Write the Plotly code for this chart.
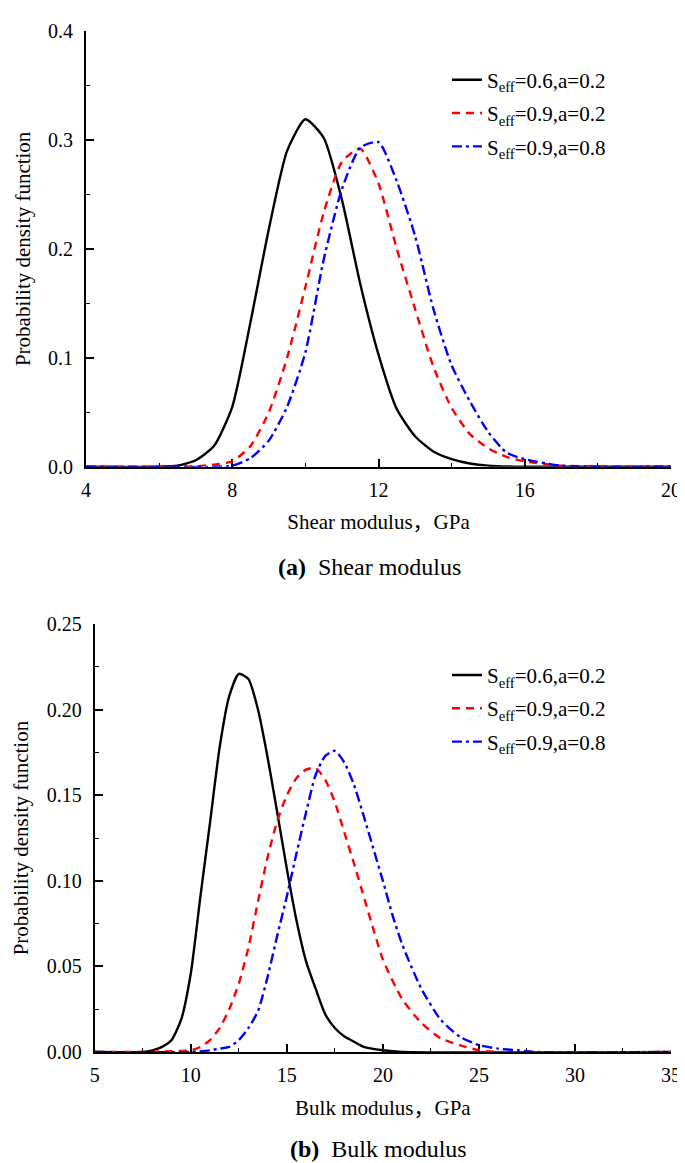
import plotly.graph_objects as go

# ---------------- data: (a) Shear modulus ----------------
shear_black_x = [4, 6, 6.5, 7, 7.5, 8, 8.5, 9, 9.5, 10, 10.5, 11, 11.5, 12, 12.5, 13, 13.5, 14, 14.5, 15, 16, 20]
shear_black_y = [0, 0, 0.001, 0.006, 0.019, 0.055, 0.133, 0.218, 0.290, 0.319, 0.302, 0.245, 0.168, 0.103, 0.053, 0.028, 0.014, 0.007, 0.003, 0.001, 0, 0]

shear_red_x = [4, 6, 7, 7.5, 8, 8.5, 9, 9.5, 10, 10.5, 11, 11.5, 12, 12.5, 13, 13.5, 14, 14.5, 15, 15.5, 16, 17, 20]
shear_red_y = [0, 0, 0.0005, 0.002, 0.005, 0.019, 0.050, 0.100, 0.165, 0.233, 0.280, 0.292, 0.260, 0.200, 0.145, 0.092, 0.054, 0.030, 0.017, 0.009, 0.005, 0.001, 0]

shear_blue_x = [4, 7.5, 8, 8.5, 9, 9.5, 10, 10.5, 11, 11.5, 12, 12.5, 13, 13.5, 14, 14.5, 15, 15.5, 16, 17, 18, 20]
shear_blue_y = [0, 0, 0.001, 0.008, 0.024, 0.055, 0.105, 0.190, 0.255, 0.293, 0.298, 0.262, 0.212, 0.145, 0.093, 0.060, 0.032, 0.013, 0.007, 0.001, 0, 0]

# ---------------- data: (b) Bulk modulus ----------------
bulk_black_x = [5, 7.5, 8, 8.5, 9, 9.5, 10, 10.5, 11, 11.5, 12, 12.5, 13, 13.5, 14, 14.5, 15, 15.5, 16, 16.5, 17, 17.5, 18, 18.5, 19, 20, 21, 35]
bulk_black_y = [0, 0, 0.001, 0.003, 0.007, 0.019, 0.046, 0.091, 0.134, 0.178, 0.208, 0.221, 0.218, 0.200, 0.172, 0.140, 0.107, 0.077, 0.053, 0.037, 0.022, 0.014, 0.009, 0.006, 0.003, 0.001, 0, 0]

bulk_red_x = [5, 7.5, 9, 10, 10.5, 11, 11.5, 12, 12.5, 13, 13.5, 14, 14.5, 15, 15.5, 16, 16.5, 17, 17.5, 18, 18.5, 19, 19.5, 20, 21, 22, 23, 24, 25, 26, 35]
bulk_red_y = [0, 0, 0.0005, 0.001, 0.003, 0.007, 0.014, 0.025, 0.040, 0.061, 0.088, 0.114, 0.135, 0.150, 0.160, 0.165, 0.166, 0.159, 0.146, 0.128, 0.110, 0.091, 0.072, 0.054, 0.031, 0.017, 0.008, 0.004, 0.001, 0, 0]

bulk_blue_x = [5, 10, 11, 11.5, 12, 12.5, 13, 13.5, 14, 14.5, 15, 15.5, 16, 16.5, 17, 17.5, 18, 18.5, 19, 19.5, 20, 20.5, 21, 22, 23, 24, 25, 26, 27, 28, 35]
bulk_blue_y = [0, 0, 0.001, 0.002, 0.003, 0.007, 0.014, 0.024, 0.044, 0.068, 0.091, 0.116, 0.140, 0.162, 0.173, 0.176, 0.169, 0.156, 0.138, 0.119, 0.100, 0.080, 0.063, 0.037, 0.019, 0.009, 0.004, 0.002, 0.001, 0, 0]

series_names = ["S<sub>eff</sub>=0.6,a=0.2", "S<sub>eff</sub>=0.9,a=0.2", "S<sub>eff</sub>=0.9,a=0.8"]

FONT = "Liberation Serif, Times New Roman, Noto Sans CJK SC, serif"
BLACK, RED, BLUE = "#000000", "#ff0000", "#0000ff"
styles = [
    dict(color=BLACK, width=2.4, dash="solid"),
    dict(color=RED, width=2.4, dash="8px,6px"),
    dict(color=BLUE, width=2.4, dash="10px,4px,3px,4px"),
]

fig = go.Figure()

top = [(shear_black_x, shear_black_y), (shear_red_x, shear_red_y), (shear_blue_x, shear_blue_y)]
bot = [(bulk_black_x, bulk_black_y), (bulk_red_x, bulk_red_y), (bulk_blue_x, bulk_blue_y)]

for i, ((xs, ys), name, st) in enumerate(zip(top, series_names, styles)):
    fig.add_trace(go.Scatter(x=xs, y=ys, mode="lines", name=name,
                             line=dict(shape="spline", smoothing=0.6, **st),
                             xaxis="x", yaxis="y", legend="legend", legendgroup=f"a{i}"))
for i, ((xs, ys), name, st) in enumerate(zip(bot, series_names, styles)):
    fig.add_trace(go.Scatter(x=xs, y=ys, mode="lines", name=name,
                             line=dict(shape="spline", smoothing=0.6, **st),
                             xaxis="x2", yaxis="y2", legend="legend2", legendgroup=f"b{i}"))

axis_common = dict(
    showline=True, linecolor="black", linewidth=2, mirror=False,
    ticks="inside", ticklen=8, tickwidth=1.6, tickcolor="black",
    showgrid=False, zeroline=False, layer="below traces",
    tickfont=dict(family=FONT, size=20, color="black"),
)
TITLE_FONT = dict(family=FONT, size=21, color="black")
LEG_FONT = dict(family=FONT, size=21, color="black")

fig.update_layout(
    width=685, height=1163,
    margin=dict(l=73, r=12, t=13, b=119),
    plot_bgcolor="white", paper_bgcolor="white",
    font=dict(family=FONT, color="black"),
    showlegend=True,
    xaxis=dict(domain=[0, 1], anchor="y", range=[4, 20], tick0=4, dtick=4, ticklabelstandoff=4,
               minor=dict(ticks="inside", ticklen=4, tickwidth=1.4, dtick=2, tick0=4, tickcolor="black"),
               title=dict(text="Shear modulus，GPa", font=TITLE_FONT, standoff=15),
               **axis_common),
    yaxis=dict(domain=[0.5732, 1], anchor="x", range=[0, 0.4], tick0=0, dtick=0.1, tickformat=".1f",
               ticklabelstandoff=7,
               minor=dict(ticks="inside", ticklen=4, tickwidth=1.4, dtick=0.05, tick0=0, tickcolor="black"),
               title=dict(text="Probability density function", font=TITLE_FONT, standoff=12),
               **axis_common),
    xaxis2=dict(domain=[0.015, 1], anchor="y2", range=[5, 35], tick0=5, dtick=5, ticklabelstandoff=4,
                minor=dict(ticks="inside", ticklen=4, tickwidth=1.4, dtick=2.5, tick0=5, tickcolor="black"),
                title=dict(text="Bulk modulus，GPa", font=TITLE_FONT, standoff=15),
                **axis_common),
    yaxis2=dict(domain=[0, 0.419], anchor="x2", range=[0, 0.25], tick0=0, dtick=0.05, tickformat=".2f",
                ticklabelstandoff=7,
                minor=dict(ticks="inside", ticklen=4, tickwidth=1.4, dtick=0.025, tick0=0, tickcolor="black"),
                title=dict(text="Probability density function", font=TITLE_FONT, standoff=12),
                **axis_common),
    legend=dict(x=0.617, y=0.972, xanchor="left", yanchor="top", bgcolor="rgba(0,0,0,0)",
                font=LEG_FONT, tracegroupgap=3),
    legend2=dict(x=0.617, y=0.389, xanchor="left", yanchor="top", bgcolor="rgba(0,0,0,0)",
                 font=LEG_FONT, tracegroupgap=3),
    annotations=[
        dict(text="<b>(a)</b>  Shear modulus", xref="paper", yref="paper", x=0.485, y=0.475,
             xanchor="center", yanchor="middle", showarrow=False, font=dict(family=FONT, size=24)),
        dict(text="<b>(b)</b>  Bulk modulus", xref="paper", yref="paper", x=0.5, y=-0.095,
             xanchor="center", yanchor="middle", showarrow=False, font=dict(family=FONT, size=24)),
    ],
)

fig.write_html("out.html")
